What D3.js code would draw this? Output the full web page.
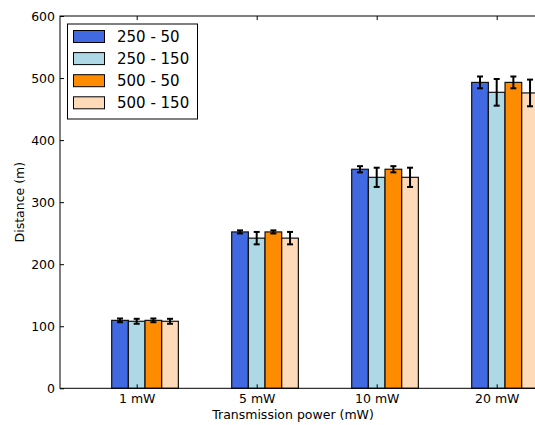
<!DOCTYPE html>
<html>
<head>
<meta charset="utf-8">
<script src="https://cdn.jsdelivr.net/npm/d3@7"></script>
<style>
  html, body { margin: 0; padding: 0; background: #fff; }
  svg { display: block; }
  text { font-family: "DejaVu Sans", sans-serif; fill: #000; }
</style>
</head>
<body>
<div id="chart"></div>
<script>
// ---- data ----
const categories = ["1 mW", "5 mW", "10 mW", "20 mW"];
const seriesNames = ["250 - 50", "250 - 150", "500 - 50", "500 - 150"];
const seriesColors = ["#4169E1", "#ADD8E6", "#FF8C00", "#FFDAB9"];
const values_250_50  = [109.5, 252, 353, 493];
const values_250_150 = [108, 242, 340, 477];
const values_500_50  = [109.5, 252, 353, 493];
const values_500_150 = [108, 242, 340, 476];
const errors_250_50  = [3, 2.5, 5, 9.5];
const errors_250_150 = [4, 10, 15.5, 21.5];
const errors_500_50  = [3, 2.5, 5, 9.5];
const errors_500_150 = [4, 10, 15.5, 21.5];
const yTicks = [0, 100, 200, 300, 400, 500, 600];
const xLabel = "Transmission power (mW)";
const yLabel = "Distance (m)";

const seriesValues = [values_250_50, values_250_150, values_500_50, values_500_150];
const seriesErrors = [errors_250_50, errors_250_150, errors_500_50, errors_500_150];

// ---- layout ----
const W = 535, H = 425;
const mLeft = 60, mTop = 16, mBottom = 388.3;
const svg = d3.select("#chart").append("svg").attr("width", W).attr("height", H);

const y = d3.scaleLinear().domain([0, 600]).range([mBottom, mTop]);
const x = d3.scaleLinear().domain([0, 3]).range([136.7, 496.7]);
const mRight = x(3) + 93;
const bw = 16.67;

// bars
const g = svg.append("g");
seriesValues.forEach((vals, j) => {
  g.selectAll(null).data(vals).enter().append("rect")
    .attr("x", (d, i) => x(i) + (j - 1.5) * bw)
    .attr("y", d => y(d))
    .attr("width", bw)
    .attr("height", d => y(0) - y(d))
    .attr("fill", seriesColors[j])
    .attr("stroke", "#111")
    .attr("stroke-width", 1.2);
});

// error bars
seriesValues.forEach((vals, j) => {
  const errs = seriesErrors[j];
  vals.forEach((v, i) => {
    const cx = x(i) + (j - 1) * bw;
    const e = errs[i];
    g.append("line").attr("x1", cx).attr("x2", cx)
      .attr("y1", y(v - e)).attr("y2", y(v + e))
      .attr("stroke", "#000").attr("stroke-width", 2);
    [v - e, v + e].forEach(t => {
      g.append("line").attr("x1", cx - 3).attr("x2", cx + 3)
        .attr("y1", y(t)).attr("y2", y(t))
        .attr("stroke", "#000").attr("stroke-width", 2);
    });
  });
});

// axes (classic matplotlib: ticks inward)
const yAxis = d3.axisLeft(y).tickValues(yTicks).tickSize(-4).tickPadding(5).tickFormat(d3.format("d"));
const yg = svg.append("g").attr("transform", `translate(${mLeft},0)`).call(yAxis);
yg.select(".domain").remove();
yg.attr("font-size", null).attr("font-family", null);
yg.selectAll("text").style("font-size", "12.5px").style("font-family", "DejaVu Sans, sans-serif");
yg.selectAll("line").attr("stroke", "#000");

const xAxis = d3.axisBottom(x).tickValues([0, 1, 2, 3]).tickFormat((d, i) => categories[i]).tickSize(-4).tickPadding(6);
const xg = svg.append("g").attr("transform", `translate(0,${mBottom})`).call(xAxis);
xg.select(".domain").remove();
xg.attr("font-size", null).attr("font-family", null);
xg.selectAll("text").style("font-size", "12.5px").style("font-family", "DejaVu Sans, sans-serif");
xg.selectAll("line").attr("stroke", "#000");

const xTop = d3.axisTop(x).tickValues([0, 1, 2, 3]).tickFormat("").tickSize(-4);
const xtg = svg.append("g").attr("transform", `translate(0,${mTop})`).call(xTop);
xtg.select(".domain").remove();
xtg.selectAll("line").attr("stroke", "#000");

// frame
svg.append("rect").attr("x", mLeft).attr("y", mTop)
  .attr("width", mRight - mLeft).attr("height", mBottom - mTop)
  .attr("fill", "none").attr("stroke", "#000").attr("stroke-width", 1);

// axis labels
svg.append("text").attr("x", 293).attr("y", 419)
  .attr("text-anchor", "middle").style("font-size", "12.5px").text(xLabel);
svg.append("text")
  .attr("transform", `translate(24,${(mTop + mBottom) / 2}) rotate(-90)`)
  .attr("text-anchor", "middle").style("font-size", "12.5px").text(yLabel);

// legend
const lg = svg.append("g");
lg.append("rect").attr("x", 67.5).attr("y", 24).attr("width", 130).attr("height", 95)
  .attr("fill", "#fff").attr("stroke", "#000").attr("stroke-width", 1);
seriesNames.forEach((name, j) => {
  const cy = 36.5 + j * 22.1;
  lg.append("rect").attr("x", 73.5).attr("y", cy - 6).attr("width", 31).attr("height", 12)
    .attr("fill", seriesColors[j]).attr("stroke", "#000").attr("stroke-width", 1);
  lg.append("text").attr("x", 117).attr("y", cy + 5.5)
    .style("font-size", "15px").text(name);
});
</script>
</body>
</html>
